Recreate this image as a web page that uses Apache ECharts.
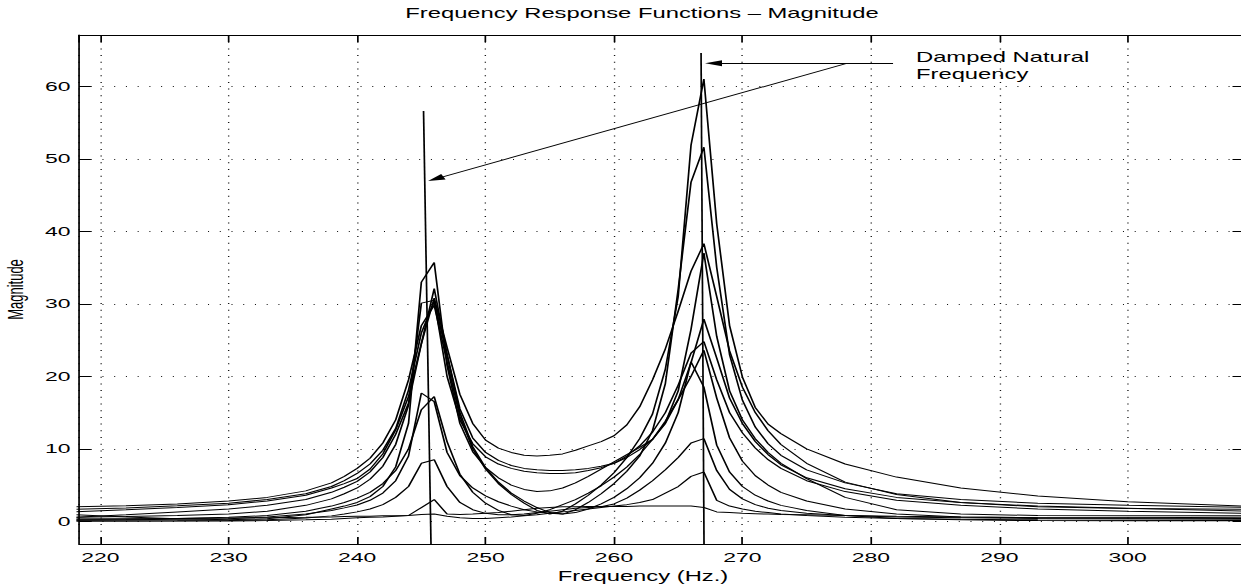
<!DOCTYPE html>
<html>
<head>
<meta charset="utf-8">
<title>Frequency Response Functions – Magnitude</title>
<script src="https://cdn.jsdelivr.net/npm/echarts@6/dist/echarts.min.js"></script>
<style>
html, body { margin: 0; padding: 0; background: #fff; overflow: hidden; }
/* the original figure is stretched sideways, so draw narrow and stretch it */
#chart { width: 730px; height: 584px; transform: scaleX(1.7); transform-origin: 0 0; }
</style>
</head>
<body>
<div id="chart"></div>
<script>
// frequency samples (Hz.)
const freq = [218, 222, 226, 230, 233, 236, 238, 239,
  240, 241, 242, 243, 244, 245, 246, 247, 248, 249,
  250, 251, 252, 253, 254, 255, 256, 257, 258, 259,
  260, 261, 262, 263, 264, 265, 266, 267, 268, 269,
  270, 271, 272, 273,
  275, 278, 282, 287, 293, 300, 309]

// magnitudes of the measured FRFs, one array per curve
const frf1 = [2.0, 2.15, 2.4, 2.8, 3.3, 4.2, 5.3, 6.2,
  7.3, 8.7, 10.8, 14.0, 19.5, 27.0, 29.8, 22.0, 14.5, 10.0,
  7.2, 5.2, 3.7, 2.5, 1.5, 1.0, 1.4, 2.4, 3.6, 5.0,
  6.7, 8.8, 11.4, 14.8, 21.0, 31.0, 51.9, 61.0, 41.0, 27.0,
  19.9, 15.7, 13.4, 12.1,
  10.0, 7.9, 6.1, 4.6, 3.5, 2.7, 2.1]
const frf2 = [1.65, 1.85, 2.15, 2.5, 3.0, 3.8, 4.8, 5.6,
  6.6, 7.9, 9.8, 12.8, 18.1, 26.0, 30.3, 23.0, 15.0, 10.3,
  7.4, 5.4, 3.9, 2.8, 1.9, 1.2, 1.0, 1.6, 2.6, 3.8,
  5.2, 6.9, 9.0, 12.5, 19.0, 32.0, 46.8, 51.6, 35.0, 23.0,
  16.7, 13.0, 10.7, 9.1,
  7.1, 5.3, 3.8, 3.0, 2.5, 2.2, 1.93]
const frf3 = [1.32, 1.6, 1.9, 2.3, 2.8, 3.6, 4.6, 5.2,
  5.9, 7.2, 9.3, 12.6, 17.2, 24.5, 30.8, 24.0, 17.5, 13.5,
  11.2, 10.1, 9.5, 9.1, 9.0, 9.1, 9.3, 9.8, 10.4, 11.0,
  11.8, 13.3, 15.8, 19.5, 23.8, 29.0, 34.5, 38.3, 31.0, 23.5,
  18.5, 15.0, 12.5, 10.6,
  8.0, 5.4, 3.7, 2.6, 2.0, 1.75, 1.65]
const frf4 = [0.55, 0.9, 1.3, 1.7, 2.2, 3.0, 4.0, 4.7,
  5.5, 6.8, 8.8, 12.0, 16.3, 24.5, 32.1, 23.0, 15.5, 11.5,
  9.5, 8.4, 7.7, 7.3, 7.1, 7.0, 7.0, 7.1, 7.3, 7.6,
  8.0, 8.8, 9.9, 11.3, 13.5, 16.8, 21.9, 27.9, 22.5, 17.0,
  13.5, 11.0, 9.2, 7.8,
  6.0, 4.5, 3.3, 2.6, 2.1, 1.8, 1.42]
const frf5 = [0.55, 0.65, 0.8, 1.0, 1.4, 2.2, 3.1, 3.8,
  4.6, 5.8, 7.6, 10.6, 16.0, 30.1, 30.5, 20.0, 14.0, 10.7,
  8.9, 7.9, 7.3, 6.9, 6.7, 6.6, 6.6, 6.7, 7.0, 7.4,
  8.0, 9.0, 10.4, 12.3, 15.0, 18.8, 23.2, 24.8, 19.5, 15.0,
  12.2, 10.1, 8.5, 7.3,
  5.6, 4.1, 2.9, 2.2, 1.7, 1.4, 1.1]
const frf6 = [0.9, 0.6, 0.35, 0.2, 0.35, 0.9, 1.7, 2.1,
  2.6, 3.4, 4.8, 7.5, 13.5, 33.0, 35.7, 21.5, 13.5, 9.6,
  7.4, 6.0, 5.0, 4.4, 4.1, 4.2, 4.6, 5.3, 6.2, 7.2,
  8.2, 9.2, 10.2, 11.3, 13.6, 18.0, 26.5, 37.0, 25.5, 18.0,
  14.0, 11.4, 9.5, 8.0,
  5.9, 3.3, 1.6, 1.0, 0.8, 0.75, 0.77]
const frf7 = [0.28, 0.3, 0.4, 0.55, 0.8, 1.4, 2.1, 2.6,
  3.2, 4.0, 5.2, 7.0, 10.0, 15.4, 17.2, 11.0, 6.5, 4.0,
  2.5, 1.5, 0.9, 0.8, 1.1, 1.6, 2.3, 3.0, 3.9, 4.9,
  6.1, 7.5, 9.2, 11.3, 13.8, 16.8, 20.0, 23.6, 17.0, 11.5,
  8.3, 6.3, 5.0, 4.0,
  2.8, 1.7, 1.0, 0.6, 0.5, 0.5, 0.55]
const frf8 = [0.15, 0.2, 0.3, 0.35, 0.6, 1.0, 1.5, 1.85,
  2.25, 2.9, 3.9, 5.6, 9.0, 17.7, 16.5, 9.5, 6.3, 4.6,
  3.5, 2.7, 2.1, 1.6, 1.3, 1.1, 1.0, 1.2, 1.7, 2.4,
  3.3, 4.5, 6.0, 8.0, 10.8, 15.0, 22.0, 18.5, 10.5, 6.8,
  4.8, 3.6, 2.8, 2.2,
  1.5, 0.8, 0.4, 0.2, 0.1, 0.08, 0.08]
const frf9 = [0.04, 0.05, 0.07, 0.1, 0.2, 0.45, 0.75, 1.0,
  1.3, 1.7, 2.3, 3.3, 4.8, 8.0, 8.5, 4.8, 2.6, 1.6,
  1.1, 0.9, 0.9, 1.0, 1.2, 1.4, 1.6, 1.8, 1.9, 2.0,
  2.4, 3.2, 4.3, 5.6, 7.1, 8.8, 10.8, 11.4, 7.0, 4.4,
  3.1, 2.3, 1.8, 1.5,
  1.1, 0.8, 0.6, 0.5, 0.4, 0.35, 0.3]
const frf10 = [0.04, 0.04, 0.05, 0.05, 0.1, 0.2, 0.3, 0.4,
  0.5, 0.55, 0.6, 0.7, 0.8, 0.95, 1.0, 0.7, 0.5, 0.4,
  0.4, 0.5, 0.6, 0.75, 0.9, 1.1, 1.3, 1.5, 1.7, 1.9,
  2.1, 2.3, 2.6, 3.0, 3.9, 4.8, 6.2, 6.8, 2.9, 2.1,
  1.7, 1.4, 1.2, 1.0,
  0.8, 0.55, 0.4, 0.3, 0.2, 0.15, 0.1]
const frf11 = [0.3, 0.35, 0.4, 0.45, 0.5, 0.55, 0.6, 0.65,
  0.7, 0.7, 0.75, 0.75, 0.8, 1.9, 3.0, 1.0, 0.95, 1.0,
  1.1, 1.2, 1.4, 1.6, 1.8, 1.9, 2.0, 2.0, 2.05, 2.05,
  2.05, 2.05, 2.1, 2.1, 2.1, 2.1, 2.1, 1.9, 1.3, 1.2,
  1.1, 1.05, 1.0, 0.95,
  0.9, 0.8, 0.7, 0.6, 0.5, 0.45, 0.4]

// damped natural frequency markers and the annotation arrows, in data units
const peakLine1 = [[245.17, 56.6], [245.75, -3.13]]
const peakLine2 = [[266.78, 64.6], [267.01, -3.13]]
const arrowFlat = [[281.73, 63.17], [267.75, 63.17]]
const arrowSlant = [[278.12, 63.17], [246.12, 47.24]]

const xRange = [218.34, 309.09]
const yRange = [-3.13, 67.08]

const font = 'Liberation Sans'
const black = '#000'

const curves = [frf1, frf2, frf3, frf4, frf5, frf6, frf7, frf8, frf9, frf10, frf11]
const series = curves.map((vals, k) => ({
  name: 'FRF ' + (k + 1),
  type: 'line',
  data: freq.map((f, i) => [f, vals[i]]),
  symbol: 'none',
  silent: true,
  lineStyle: { color: black, width: 1 },
}))
series.push({
  type: 'line',
  data: peakLine1,
  symbol: 'none',
  silent: true,
  lineStyle: { color: black, width: 1 },
  markLine: {
    silent: true,
    animation: false,
    symbol: ['none', 'triangle'],
    label: { show: false },
    lineStyle: { color: black, width: 0.9, type: 'solid' },
    data: [
      [{ coord: arrowFlat[0], symbol: 'none' }, { coord: arrowFlat[1], symbol: 'triangle', symbolSize: [6, 10] }],
      [{ coord: arrowSlant[0], symbol: 'none' }, { coord: arrowSlant[1], symbol: 'triangle', symbolSize: [6, 10] }],
    ],
  },
})
series.push({
  type: 'line',
  data: peakLine2,
  symbol: 'none',
  silent: true,
  lineStyle: { color: black, width: 1 },
})

const labelStyle = { color: black, fontFamily: font, fontSize: 13.5, showMinLabel: false, showMaxLabel: false }

const options = {
  animation: false,
  backgroundColor: '#fff',
  title: {
    text: 'Frequency Response Functions – Magnitude',
    left: 377.6,
    top: 6,
    padding: 0,
    textAlign: 'center',
    textStyle: { fontFamily: font, fontSize: 14, fontWeight: 'normal', color: black },
  },
  grid: { left: 46.47, right: -2, top: 35, bottom: 40, containLabel: false, outerBoundsMode: 'none' },
  xAxis: [
    {
      type: 'value',
      position: 'bottom',
      min: xRange[0],
      max: xRange[1],
      splitNumber: 9,
      axisLine: { show: true, onZero: false, lineStyle: { color: black, width: 1 } },
      axisTick: { show: true, inside: true, length: 7, lineStyle: { color: black } },
      axisLabel: Object.assign({ margin: 6 }, labelStyle),
      splitLine: { show: true, lineStyle: { color: '#111', width: 0.8, type: [1, 5.7] } },
      name: 'Frequency (Hz.)',
      nameLocation: 'middle',
      nameGap: 23,
      nameTextStyle: { fontFamily: font, fontSize: 14, color: black, padding: [0, 22, 0, 0] },
    },
    {
      type: 'value',
      position: 'top',
      min: xRange[0],
      max: xRange[1],
      splitNumber: 9,
      axisLine: { show: true, onZero: false, lineStyle: { color: black, width: 1 } },
      axisTick: { show: true, inside: true, length: 7, lineStyle: { color: black } },
      axisLabel: { show: false },
      splitLine: { show: false },
    },
  ],
  yAxis: [
    {
      type: 'value',
      position: 'left',
      min: yRange[0],
      max: yRange[1],
      splitNumber: 7,
      axisLine: { show: true, onZero: false, lineStyle: { color: black, width: 1 } },
      axisTick: { show: true, inside: true, length: 7, lineStyle: { color: black } },
      axisLabel: Object.assign({ margin: 5 }, labelStyle),
      splitLine: { show: true, lineStyle: { color: '#111', width: 1, type: [0.6, 6.3] } },
      name: 'Magnitude',
      nameLocation: 'middle',
      nameGap: 31,
      nameTextStyle: { fontFamily: font, fontSize: 13, color: black },
    },
    {
      type: 'value',
      position: 'right',
      min: yRange[0],
      max: yRange[1],
      splitNumber: 7,
      axisLine: { show: true, onZero: false, lineStyle: { color: black, width: 1 } },
      axisTick: { show: true, inside: true, length: 7, lineStyle: { color: black } },
      axisLabel: { show: false },
      splitLine: { show: false },
    },
  ],
  graphic: [
    {
      type: 'text',
      x: 538.8,
      y: 49,
      silent: true,
      style: {
        text: 'Damped Natural\nFrequency',
        font: '14px "Liberation Sans"',
        fill: black,
        lineHeight: 16.5,
        align: 'left',
        verticalAlign: 'top',
      },
    },
  ],
  series: series,
}

const chart = echarts.init(document.getElementById('chart'), null, { renderer: 'svg' })
chart.setOption(options)
</script>
</body>
</html>
